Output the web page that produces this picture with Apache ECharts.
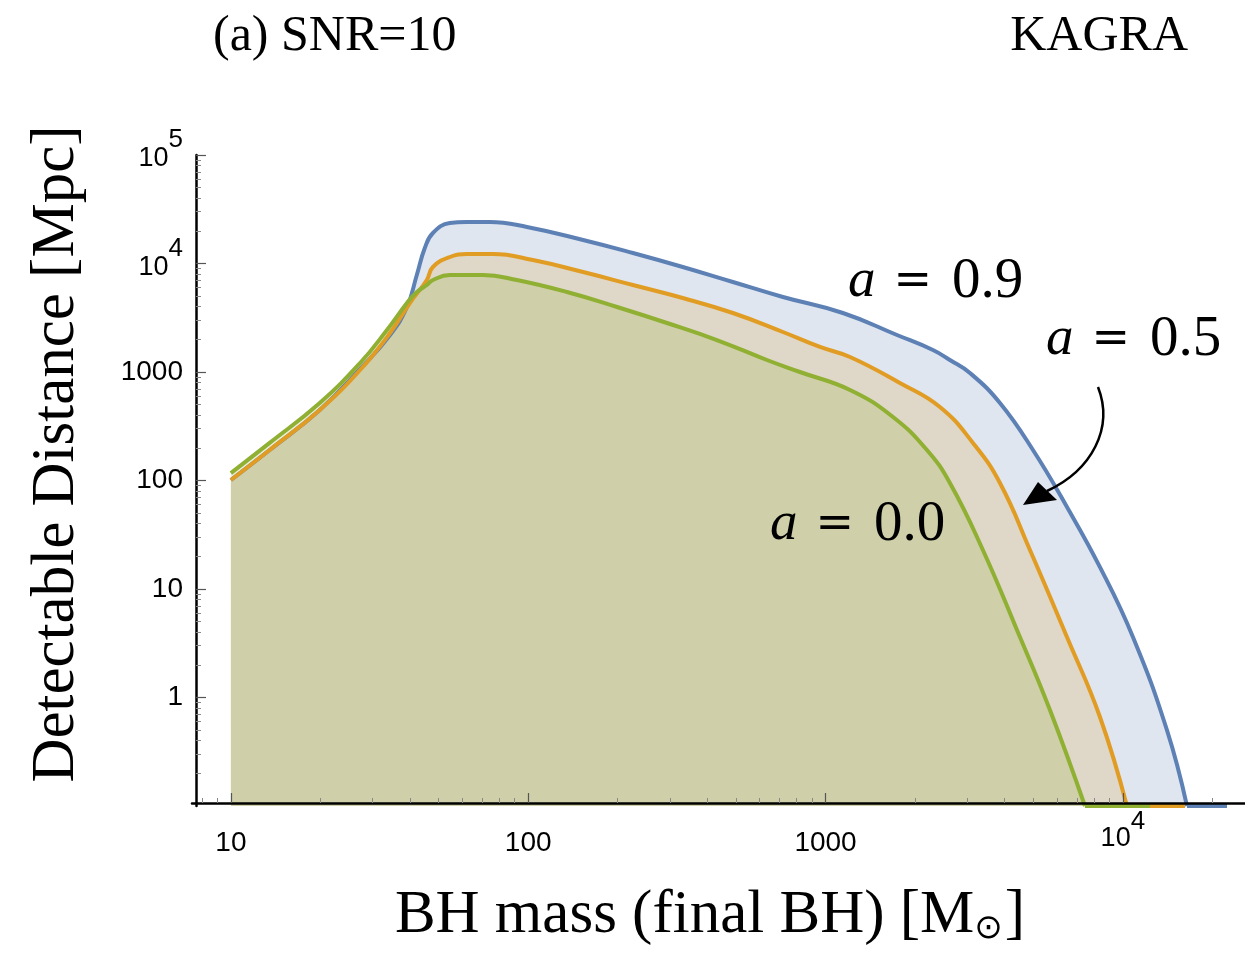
<!DOCTYPE html>
<html>
<head>
<meta charset="utf-8">
<title>KAGRA detectable distance</title>
<script src="https://cdn.jsdelivr.net/npm/echarts@6/dist/echarts.min.js"></script>
<style>
  html, body { margin: 0; padding: 0; background: #fff; }
  #main { width: 1245px; height: 963px; }
</style>
</head>
<body>
<div id="main"></div>
<script>
// final BH mass [Msun] -> detectable distance [Mpc]
// (0.1 = bottom of the plot, curves are clipped there)
var massA09 = [10, 13.5, 19.9, 27.2, 34.3, 39.1, 42.2, 44.9, 47.8, 54.5, 62.2, 74.3, 99, 153, 225,
               331, 488, 719, 1144, 1739, 2297, 2620, 3060, 3860, 4985, 6486, 8375, 10810, 14070, 16430, 22400];
var distA09 = [101, 191, 447, 1066, 2193, 3972, 7834, 13900, 19100, 23620, 24130, 24130, 21700, 16470, 12500,
               9290, 6753, 4911, 3498, 2193, 1595, 1290, 979, 518, 191, 57, 15.9, 3.61, 0.5, 0.1, 0.1];

var massA05 = [10, 13.5, 19.9, 27.2, 34.3, 40, 45.6, 47.8, 54.5, 62.2, 76.1, 103.7, 153, 225,
               331, 488, 719, 958, 1209, 1779, 2425, 3132, 3860, 4870, 6486, 8375, 10320, 16180];
var distA05 = [101, 191, 447, 1043, 2288, 4324, 7046, 9290, 11480, 12230, 12230, 10770, 8350, 6336,
               4809, 3498, 2337, 1700, 1375, 792, 476, 222, 94.8, 22.9, 3.61, 0.661, 0.1, 0.1];

var massA00 = [10, 13.5, 19.9, 27.2, 33.5, 39.1, 42.2, 45.6, 47.8, 54.5, 70.4, 91.6, 135, 199,
               293, 431, 635, 820, 1209, 1686, 2193, 2620, 3382, 4404, 5686, 7455, 12340];
var distA00 = [117, 222, 518, 1210, 2438, 4324, 5462, 6336, 7046, 7834, 7834, 7046, 5462, 3972,
               2829, 1972, 1290, 1000, 683, 385, 191, 94.8, 22.9, 4.19, 0.767, 0.1, 0.1];

var xMajor = [10, 100, 1000, 10000];
var yMajor = [1, 10, 100, 1000, 10000, 100000];
var xRange = [7.4, 25750];
var yRange = [0.1, 100000];

var lg = Math.log10;

// split a curve where it reaches the plot floor: smooth part + flat clipped part
function splitCurve(m, d) {
  var body = [], floor = [], hit = false;
  for (var i = 0; i < m.length; i++) {
    var p = [lg(m[i]), lg(d[i])];
    if (!hit) body.push(p);
    if (d[i] <= yRange[0]) { hit = true; floor.push(p); }
  }
  return { body: body, floor: floor };
}

// 2..9 x 10^n minor ticks inside a range
function minors(lo, hi) {
  var v = [];
  for (var e = Math.floor(lg(lo)); e <= Math.ceil(lg(hi)); e++) {
    for (var k = 2; k <= 9; k++) {
      var t = k * Math.pow(10, e);
      if (t > lo && t < hi) v.push(lg(t));
    }
  }
  return v;
}

var tickFont = 'Liberation Sans, Arial, sans-serif';
var serif = 'Liberation Serif, Times New Roman, serif';

function powLabel(v) {
  var e = Math.round(v);
  if (e >= 4) return '{n|10}{s|' + e + '}';
  return '{p|' + Math.round(Math.pow(10, e)) + '}';
}
var yRich = {
  p: { fontFamily: tickFont, fontSize: 28, color: '#000' },
  n: { fontFamily: tickFont, fontSize: 27, color: '#000', padding: [8, 0, 0, 0] },
  s: { fontFamily: tickFont, fontSize: 26, color: '#000', padding: [0, 0, 30, 0] }
};
var xRich = {
  p: { fontFamily: tickFont, fontSize: 28, color: '#000' },
  n: { fontFamily: tickFont, fontSize: 27, color: '#000', padding: [0, 0, 8, 0] },
  s: { fontFamily: tickFont, fontSize: 26, color: '#000', padding: [0, 0, 42, 0] }
};

var colors = { a09: '#5E81B5', a05: '#E19C24', a00: '#8FB032' };

var c09 = splitCurve(massA09, distA09);
var c05 = splitCurve(massA05, distA05);
var c00 = splitCurve(massA00, distA00);

function curve(name, pts, color) {
  return {
    name: name,
    type: 'line',
    data: pts,
    showSymbol: false,
    smooth: 0.45,
    lineStyle: { color: color, width: 4 },
    itemStyle: { color: color },
    areaStyle: { color: color, opacity: 0.2, origin: 'start' },
    emphasis: { disabled: true }
  };
}
function floorLine(name, pts, color) {
  return {
    name: name,
    type: 'line',
    data: pts,
    showSymbol: false,
    clip: false,
    lineStyle: { color: color, width: 4 },
    itemStyle: { color: color },
    emphasis: { disabled: true }
  };
}

var chart = echarts.init(document.getElementById('main'));

var xAxisBase = {
  type: 'value',
  position: 'bottom',
  min: lg(xRange[0]),
  max: lg(xRange[1]),
  offset: -3,
  z: 10,
  splitLine: { show: false }
};
var yAxisBase = {
  type: 'value',
  position: 'left',
  min: lg(yRange[0]),
  max: lg(yRange[1]),
  offset: -4,
  z: 10,
  splitLine: { show: false }
};

function mathLabel(txt, x, y) {
  return {
    type: 'text', x: x, y: y, z: 100,
    style: {
      text: '{i|a}{e|=}{n|' + txt + '}', verticalAlign: 'middle',
      rich: {
        i: { font: 'italic 55px ' + serif, fill: '#000' },
        e: { font: '46px DejaVu Sans, sans-serif', fill: '#000', padding: [0, 20, 0, 18] },
        n: { font: '57px ' + serif, fill: '#000' }
      }
    }
  };
}

var option = {
  animation: false,
  backgroundColor: '#fff',
  grid: { left: 192, right: 0, top: 155, bottom: 157, outerBoundsMode: 'none' },
  xAxis: [
    Object.assign({}, xAxisBase, {
      axisLine: { show: true, onZero: false, lineStyle: { color: '#000', width: 2.5 } },
      axisTick: { show: true, inside: true, length: 10, customValues: xMajor.map(lg),
                  lineStyle: { color: '#555', width: 1.2 } },
      axisLabel: { show: true, customValues: xMajor.map(lg), margin: 40, verticalAlign: 'middle',
                   formatter: powLabel, rich: xRich }
    }),
    Object.assign({}, xAxisBase, {
      axisLine: { show: false, onZero: false },
      axisTick: { show: true, inside: true, length: 5, customValues: minors(xRange[0], xRange[1]),
                  lineStyle: { color: '#888', width: 1 } },
      axisLabel: { show: false }
    })
  ],
  yAxis: [
    Object.assign({}, yAxisBase, {
      axisLine: { show: true, onZero: false, lineStyle: { color: '#000', width: 2.5 } },
      axisTick: { show: true, inside: true, length: 10, customValues: yMajor.map(lg),
                  lineStyle: { color: '#555', width: 1.2 } },
      axisLabel: { show: true, customValues: yMajor.map(lg), margin: 13,
                   formatter: powLabel, rich: yRich }
    }),
    Object.assign({}, yAxisBase, {
      axisLine: { show: false, onZero: false },
      axisTick: { show: true, inside: true, length: 5, customValues: minors(yRange[0], yRange[1]),
                  lineStyle: { color: '#888', width: 1 } },
      axisLabel: { show: false }
    })
  ],
  series: [
    curve('a = 0.9', c09.body, colors.a09),
    curve('a = 0.5', c05.body, colors.a05),
    curve('a = 0.0', c00.body, colors.a00),
    floorLine('a = 0.9 floor', c09.floor, colors.a09),
    floorLine('a = 0.5 floor', c05.floor, colors.a05),
    floorLine('a = 0.0 floor', c00.floor, colors.a00)
  ],
  graphic: [
    { type: 'text', left: 213, top: 12, z: 100,
      style: { text: '(a) SNR=10', font: '50px ' + serif, fill: '#000' } },
    { type: 'text', right: 57, top: 12, z: 100,
      style: { text: 'KAGRA', font: '50px ' + serif, fill: '#000' } },
    { type: 'text', x: 57, y: 454, rotation: Math.PI / 2, z: 100,
      style: { text: 'Detectable Distance [Mpc]', font: '61px ' + serif, fill: '#000',
               align: 'center', verticalAlign: 'middle' } },
    { type: 'text', x: 710, y: 916, z: 100,
      style: { text: '{t|BH mass (final BH) [M}{s|\u2299}{t|]}', align: 'center', verticalAlign: 'middle',
               rich: { t: { font: '61px ' + serif, fill: '#000' },
                       s: { font: '34px DejaVu Sans, sans-serif', fill: '#000', padding: [26, 2, 0, 0] } } } },
    mathLabel('0.9', 848, 282),
    mathLabel('0.5', 1046, 340),
    mathLabel('0.0', 770, 525),
    { type: 'bezierCurve', z: 100,
      shape: { x1: 1098, y1: 387, cpx1: 1114, cpy1: 428, cpx2: 1092, cpy2: 470, x2: 1047, y2: 491 },
      style: { stroke: '#000', lineWidth: 2.5, fill: null } },
    { type: 'polygon', z: 100,
      shape: { points: [[1023, 505], [1038, 482], [1057, 500]] },
      style: { fill: '#000' } }
  ]
};

chart.setOption(option);
</script>
</body>
</html>
